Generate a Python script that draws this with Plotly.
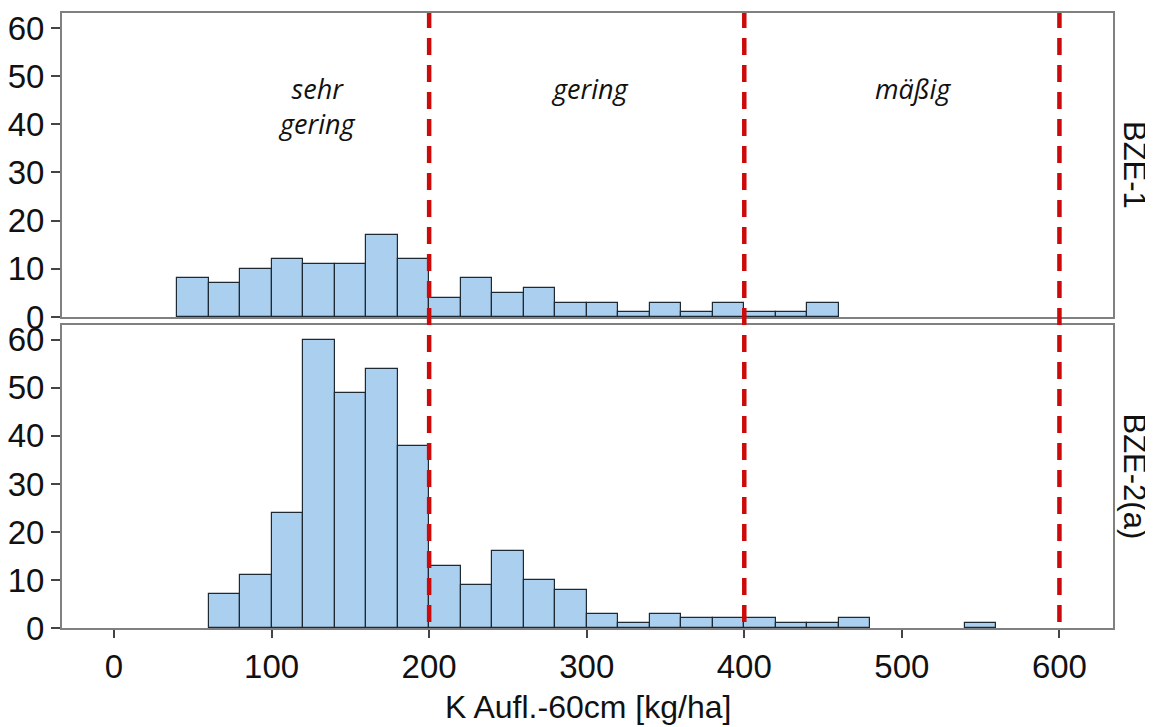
import plotly.graph_objects as go

# Histogram data (bin width 20)
bze1_bin_start = [40, 60, 80, 100, 120, 140, 160, 180, 200, 220, 240, 260, 280, 300, 320, 340, 360, 380, 400, 420, 440]
bze1_counts = [8, 7, 10, 12, 11, 11, 17, 12, 4, 8, 5, 6, 3, 3, 1, 3, 1, 3, 1, 1, 3]

bze2_bin_start = [60, 80, 100, 120, 140, 160, 180, 200, 220, 240, 260, 280, 300, 320, 340, 360, 380, 400, 420, 440, 460, 540]
bze2_counts = [7, 11, 24, 60, 49, 54, 38, 13, 9, 16, 10, 8, 3, 1, 3, 2, 2, 2, 1, 1, 2, 1]

bin_width = 20
thresholds = [200, 400, 600]
class_labels = ["sehr<br>gering", "gering", "mäßig"]
class_label_x = [129, 302, 507]
panel_labels = ["BZE-1", "BZE-2(a)"]
x_ticks = [0, 100, 200, 300, 400, 500, 600]
y_ticks = [0, 10, 20, 30, 40, 50, 60]
x_title = "K Aufl.-60cm [kg/ha]"

bar_fill = "#abcfee"
bar_line = "#1e2a33"
frame = "#808080"
red = "#cc0a0a"
font_main = "Liberation Sans"
txt = "#111111"

# page body has an 8px default margin; size the figure so it ends at the window edge
OFF = 8
W, H = 1153 - OFF, 727 - OFF
ML, MR, MT, MB = 62 - OFF, W - (1113 - OFF), 13 - OFF, H - (628 - OFF)
plot_h = H - MT - MB


def py(px):
    """page pixel row -> paper y"""
    return (H - MB - (px - OFF)) / plot_h


top_dom = [py(317), 1]
bot_dom = [0, py(325)]

fig = go.Figure()
fig.add_trace(go.Bar(
    x=[b + bin_width / 2 for b in bze1_bin_start], y=bze1_counts, width=bin_width,
    marker=dict(color=bar_fill, line=dict(color=bar_line, width=1.2)),
    xaxis="x", yaxis="y", showlegend=False))
fig.add_trace(go.Bar(
    x=[b + bin_width / 2 for b in bze2_bin_start], y=bze2_counts, width=bin_width,
    marker=dict(color=bar_fill, line=dict(color=bar_line, width=1.2)),
    xaxis="x2", yaxis="y2", showlegend=False))

xr = [-33, 634]
yr = [0, 63.1]
common_y = dict(range=yr, tickvals=y_ticks, ticks="outside", ticklen=9, tickwidth=1.5,
                tickcolor="#444", showgrid=False, zeroline=False, showline=True,
                linecolor=frame, linewidth=2, mirror=True, automargin=False,
                tickfont=dict(family=font_main, size=33, color=txt))
fig.update_layout(
    width=W, height=H,
    margin=dict(l=ML, r=MR, t=MT, b=MB, autoexpand=False),
    paper_bgcolor="white", plot_bgcolor="white",
    bargap=0,
    xaxis=dict(domain=[0, 1], range=xr, anchor="y", showticklabels=False, ticks="",
               showgrid=False, zeroline=False, showline=True, linecolor=frame,
               linewidth=2, mirror=True, automargin=False),
    yaxis=dict(domain=top_dom, anchor="x", **common_y),
    xaxis2=dict(domain=[0, 1], range=xr, anchor="y2", tickvals=x_ticks, ticks="outside",
                ticklen=8, tickwidth=1.5, tickcolor="#444", showgrid=False, zeroline=False,
                showline=True, linecolor=frame, linewidth=2, mirror=True, automargin=False,
                tickfont=dict(family=font_main, size=33, color=txt)),
    yaxis2=dict(domain=bot_dom, anchor="x2", **common_y),
)

for t in thresholds:
    fig.add_shape(type="line", xref="x", yref="paper", x0=t, x1=t, y0=py(622), y1=1,
                  line=dict(color=red, width=4.5, dash="17px,10px"), layer="above")

label_y = [py(106), py(88), py(88)]
for lbl, lx, ly in zip(class_labels, class_label_x, label_y):
    fig.add_annotation(x=lx, y=ly, xref="x", yref="paper", text="<i>" + lbl + "</i>",
                       showarrow=False, yanchor="middle",
                       font=dict(family="Open Sans", size=27, color=txt))

for lbl, dom in zip(panel_labels, [top_dom, bot_dom]):
    fig.add_annotation(x=1.0, xref="paper", xshift=21, xanchor="center",
                       y=(dom[0] + dom[1]) / 2, yref="paper", yanchor="middle",
                       text=lbl, textangle=90, showarrow=False,
                       font=dict(family=font_main, size=31, color=txt))

fig.add_annotation(x=0.5, xref="paper", y=py(707), yref="paper", text=x_title,
                   showarrow=False, yanchor="middle",
                   font=dict(family=font_main, size=32, color=txt))

fig.write_html("out.html")
